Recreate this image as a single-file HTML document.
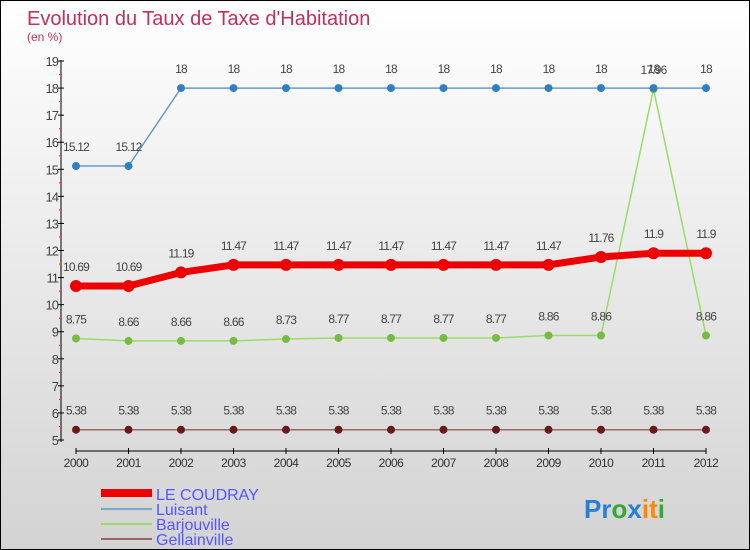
<!DOCTYPE html>
<html><head><meta charset="utf-8"><style>
body{margin:0}
#c{width:748px;height:548px;border:1px solid #000;background:linear-gradient(#fff,#d3d3d3);position:relative;font-family:"Liberation Sans",sans-serif;overflow:hidden}
</style></head><body>
<div id="c">
<svg id="s" width="748" height="548" style="position:absolute;left:0;top:0">
<text x="26" y="24" font-size="20" fill="#c0305a">Evolution du Taux de Taxe d'Habitation</text>
<text x="26" y="40" font-size="12" fill="#c0305a">(en %)</text>
<g id="ax"></g><g id="ser"></g>
<g font-size="16" fill="#5555ff">
<rect x="100" y="488" width="51" height="8" fill="#e00"/>
<text x="155" y="499">LE COUDRAY</text>
<rect x="100" y="507" width="51" height="2" fill="#7aa8cc"/>
<text x="155" y="514">Luisant</text>
<rect x="100" y="522" width="51" height="2" fill="#99dd66"/>
<text x="155" y="529">Barjouville</text>
<rect x="100" y="537" width="51" height="2" fill="#996666"/>
<text x="155" y="544">Gellainville</text>
</g>
<text x="583" y="517" font-size="26" font-weight="bold"><tspan fill="#2a7fd4">Pr</tspan><tspan fill="#33aa33">o</tspan><tspan fill="#2a7fd4">x</tspan><tspan fill="#ff8800">i</tspan><tspan fill="#ff8800">t</tspan><tspan fill="#33aa33">i</tspan></text>
</svg>
</div>
<script>
const years=[2000,2001,2002,2003,2004,2005,2006,2007,2008,2009,2010,2011,2012];
const coudray=[10.69,10.69,11.19,11.47,11.47,11.47,11.47,11.47,11.47,11.47,11.76,11.9,11.9];
const luisant=[15.12,15.12,18,18,18,18,18,18,18,18,18,18,18];
const barjouville=[8.75,8.66,8.66,8.66,8.73,8.77,8.77,8.77,8.77,8.86,8.86,17.96,8.86];
const gellainville=[5.38,5.38,5.38,5.38,5.38,5.38,5.38,5.38,5.38,5.38,5.38,5.38,5.38];
const yTicks=[5,6,7,8,9,10,11,12,13,14,15,16,17,18,19];
const NS="http://www.w3.org/2000/svg";
const xs=i=>75+i*52.5, ys=v=>439-(v-5)*27.07;
function mk(p,t,a){const e=document.createElementNS(NS,t);for(const k in a)e.setAttribute(k,a[k]);p.appendChild(e);return e;}
const ax=document.getElementById('ax'),ser=document.getElementById('ser');
let e=mk(ax,'line',{x1:60,y1:59,x2:60,y2:441,stroke:'#000'});

e=mk(ax,'line',{x1:75,y1:450,x2:705,y2:450,stroke:'#000'});

yTicks.forEach(v=>{const y=ys(v);
mk(ax,'line',{x1:57,y1:y,x2:63,y2:y,stroke:'#000'});
if(v<19)mk(ax,'line',{x1:58,y1:y-13.5,x2:61,y2:y-13.5,stroke:'#e33'});
const t=mk(ax,'text',{x:57,y:y+5,'font-size':13,fill:'#444','text-anchor':'end','letter-spacing':'-1'});t.textContent=v;
});
years.forEach((yr,i)=>{const x=xs(i);
mk(ax,'line',{x1:x,y1:447,x2:x,y2:453,stroke:'#000'});
const t=mk(ax,'text',{x:x,y:466,'font-size':12,fill:'#333','text-anchor':'middle','letter-spacing':'-0.5'});t.textContent=yr;
});
function series(d,col,w,r,name,dot){
const g=mk(ser,'g',{});
const l=mk(g,'polyline',{points:d.map((v,i)=>xs(i)+','+ys(v)).join(' '),fill:'none',stroke:col,'stroke-width':w});

d.forEach((v,i)=>{const c=mk(g,'circle',{cx:xs(i),cy:ys(v),r:r,fill:dot});

const t=mk(g,'text',{x:xs(i),y:ys(v)-15,'font-size':12,fill:'#444','text-anchor':'middle','letter-spacing':'-0.8'});t.textContent=v;
});}
series(gellainville,'#996666',1.5,4,'gellainville','#661a1a');
series(barjouville,'#99dd66',1.5,4,'barjouville','#77bb44');
series(luisant,'#6699cc',1.5,4,'luisant','#3080c0');
series(coudray,'#ee0000',7,6,'le-coudray','#ee0000');
</script>
</body></html>
